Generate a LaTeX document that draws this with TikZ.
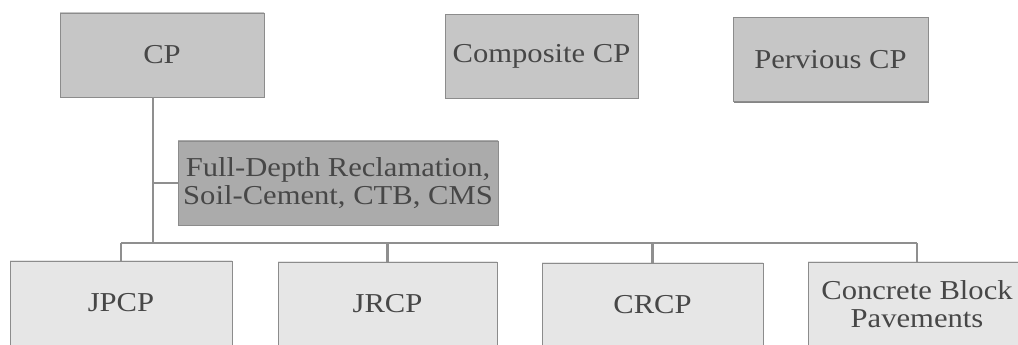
\documentclass[tikz,border=0pt]{standalone}
\usepackage{fontspec}
\setmainfont[FakeStretch=1.12]{Liberation Serif}
\usetikzlibrary{shadows}

\definecolor{boxline}{HTML}{8C8C8C}
\definecolor{linkgray}{HTML}{8F8F8F}
\definecolor{ink}{HTML}{474747}
\definecolor{topedge}{HTML}{C6C6C6}
\definecolor{topmid}{HTML}{E2E2E2}
\definecolor{fdedge}{HTML}{ABABAB}
\definecolor{fdmid}{HTML}{C8C8C8}
\definecolor{lowedge}{HTML}{E6E6E6}
\definecolor{lowmid}{HTML}{F4F4F4}

\begin{document}
\begin{tikzpicture}[x=0.75pt, y=-0.75pt,
	boxtext/.style={text=ink, inner sep=0pt, align=center,
		font=\fontsize{20.5}{20.5}\selectfont},
	topbox/.style={boxtext, draw=boxline, top color=topedge,
		middle color=topmid, bottom color=topedge, minimum height=63pt},
	basebox/.style={boxtext, draw=boxline, top color=fdedge,
		middle color=fdmid, bottom color=fdedge, minimum height=63pt},
	lowbox/.style={boxtext, draw=boxline, top color=lowedge,
		middle color=lowmid, bottom color=lowedge, minimum height=63pt},
	link/.style={draw=linkgray, line width=2pt},
	]
	\useasboundingbox (0,0) rectangle (1018,345);
	\clip (0,0) rectangle (1018,345);

	\node[topbox, minimum width=153pt] (cp) at (162,55) {CP};
	\node[topbox, minimum width=144.75pt] (comp) at (541.5,56.5) {Composite CP};
	\node[topbox, minimum width=146.25pt,
		drop shadow={shadow xshift=1pt, shadow yshift=-1.2pt, fill=gray!80!black, opacity=0.8},
		] (perv) at (830.5,59.5) {Pervious CP};

	\node[basebox, minimum width=240pt] (fd) at (338,183)
		{Full-Depth Reclamation,\\ Soil-Cement, CTB, CMS};

	\node[lowbox, minimum width=166.5pt] (jpcp) at (121,303) {JPCP};
	\node[lowbox, minimum width=164.25pt] (jrcp) at (387.5,304) {JRCP};
	\node[lowbox, minimum width=165.75pt] (crcp) at (652.5,305) {CRCP};
	\node[lowbox, minimum width=163.5pt] (cbp) at (917,304)
		{Concrete Block\\ Pavements};

	\coordinate (trunk) at (153,243);

	\draw[link] (cp.south -| trunk) -- (trunk);
	\draw[link] (trunk |- fd.west) -- (fd.west);
	\draw[link] (jpcp.north |- trunk) -- (cbp.north |- trunk);
	\foreach \n in {jpcp,jrcp,crcp,cbp}
		\draw[link] (\n.north |- trunk) -- (\n.north);
\end{tikzpicture}
\end{document}
